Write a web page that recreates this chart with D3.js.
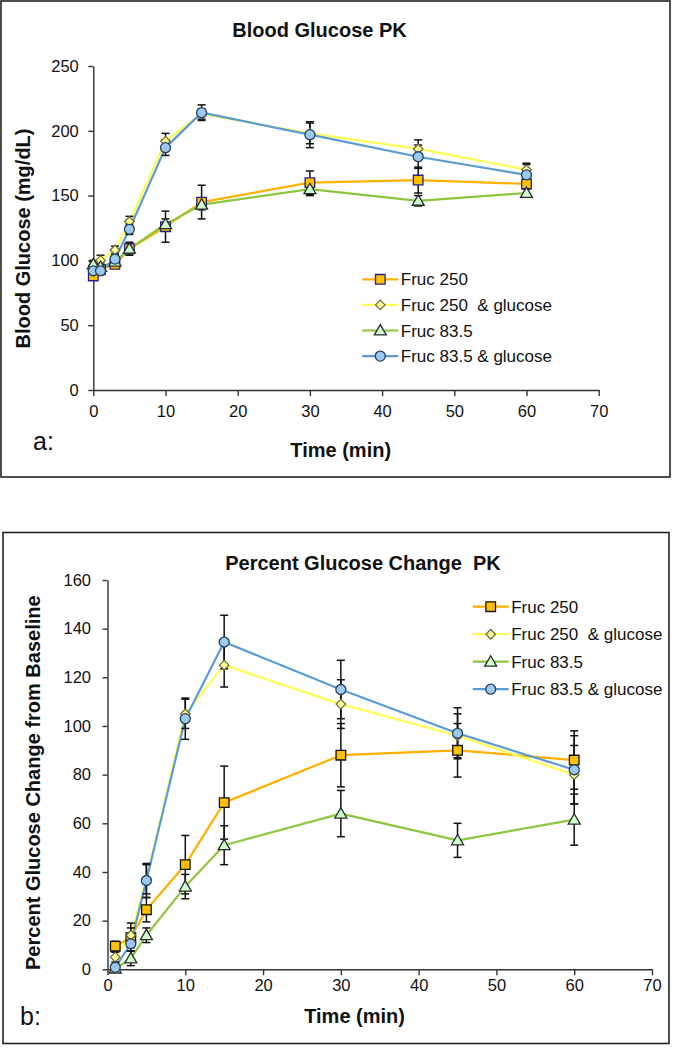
<!DOCTYPE html>
<html><head><meta charset="utf-8">
<script src="https://cdn.jsdelivr.net/npm/d3@7"></script>
<style>
html,body{margin:0;padding:0;background:#fff;}
svg{display:block;font-family:"Liberation Sans",Arial,sans-serif;}
</style></head>
<body>
<script>
// ---------- DATA ----------
const seriesNames = ["Fruc 250", "Fruc 250  & glucose", "Fruc 83.5", "Fruc 83.5 & glucose"];

// Chart a: Blood Glucose PK (mg/dL)
const timesA = [0, 1, 3, 5, 10, 15, 30, 45, 60];
const fruc250A      = [88, 93, 97, 109, 126, 145, 160, 162, 159];
const fruc250GluA   = [96, 100, 108, 130, 192, 213, 198, 186, 170];
const fruc835A      = [97, 95, 99, 109, 128, 143, 155, 146, 152];
const fruc835GluA   = [92, 92, 101, 124, 187, 214, 197, 180, 166];
const errFruc250A    = [3, 3, 3, 5, 12, 13, 9, 10, 3];
const errFruc250GluA = [3, 4, 3, 4, 6, 4, 8, 7, 5];
const errFruc835A    = [3, 3, 3, 4, 4, 4, 5, 4, 3];
const errFruc835GluA = [3, 3, 3, 4, 6, 6, 10, 9, 8];
const yTicksA = [0, 50, 100, 150, 200, 250];

// Chart b: Percent Glucose Change from Baseline
const timesB = [1, 3, 5, 10, 15, 30, 45, 60];
const fruc250B      = [9.5, 13, 24.5, 43, 68.5, 88, 90, 86];
const fruc250GluB   = [5, 14, 37, 105, 125, 109, 96, 80];
const fruc835B      = [0.3, 4.5, 14, 34, 51, 64, 53, 61.5];
const fruc835GluB   = [0.8, 10.5, 36.5, 103, 134.5, 115, 97, 82];
const errFruc250B    = [2, 4, 5, 12, 15, 13, 11, 12];
const errFruc250GluB = [2, 5, 6, 6, 9, 10, 9, 12];
const errFruc835B    = [1.5, 3, 3, 5, 8, 9.5, 7, 10.5];
const errFruc835GluB = [1, 3, 7, 8.5, 11, 12, 10.5, 14];
const yTicksB = [0, 20, 40, 60, 80, 100, 120, 140, 160];

const xTicks = [0, 10, 20, 30, 40, 50, 60, 70];

// ---------- STYLE ----------
const lineColors = ["#FFB000", "#FFFF55", "#8DC63F", "#5B9BD5"];
const fillColors = ["#FFC000", "#FFFF99", "#CCFFCC", "#9DC8F0"];
const strokeA = ["#22228C", "#6E6E3A", "#2A2A2A", "#24405E"];
const strokeB = ["#111111", "#6E6E3A", "#2A2A2A", "#24405E"];
const symbols = [d3.symbolSquare, d3.symbolDiamond2, d3.symbolTriangle, d3.symbolCircle];
const symSizes = [92, 58, 62, 78];

const W = 674, H = 1050;
const svg = d3.select("body").append("svg").attr("width", W).attr("height", H);

function drawChart(cfg) {
  const g = svg.append("g");
  // frame
  g.append("rect").attr("x", cfg.frame[0]).attr("y", cfg.frame[1])
    .attr("width", cfg.frame[2]).attr("height", cfg.frame[3])
    .attr("fill", "none").attr("stroke", "#222").attr("stroke-width", 1.6);

  const x = d3.scaleLinear().domain([0, 70]).range(cfg.xRange);
  const y = d3.scaleLinear().domain([0, cfg.yMax]).range(cfg.yRange);

  // axes
  const ya = g.append("g").attr("transform", `translate(${cfg.xRange[0]},0)`)
    .call(d3.axisLeft(y).tickValues(cfg.yTicks).tickSize(5).tickSizeOuter(0).tickPadding(cfg.yPad));
  const xa = g.append("g").attr("transform", `translate(0,${cfg.yRange[0]})`)
    .call(d3.axisBottom(x).tickValues(xTicks).tickSize(6).tickSizeOuter(0).tickPadding(cfg.xPad));
  [ya, xa].forEach(a => {
    a.selectAll("path.domain").attr("stroke", "#333").attr("stroke-width", 1.4);
    a.selectAll(".tick line").attr("stroke", "#333").attr("stroke-width", 1.4);
    a.selectAll(".tick text").attr("fill", "#111").style("font-size", "16.5px")
      .style("font-family", "'Liberation Sans',Arial,sans-serif");
  });

  const line = d3.line().x(d => x(d[0])).y(d => y(d[1]));
  const data = cfg.series.map((s, k) => cfg.times.map((t, i) => [t, s[i], cfg.errs[k][i]]));

  // lines
  data.forEach((d, k) => {
    g.append("path").datum(d).attr("d", line).attr("fill", "none")
      .attr("stroke", lineColors[k]).attr("stroke-width", 2.2).attr("stroke-linejoin", "round");
  });
  // error bars
  data.forEach((d, k) => {
    const eb = g.append("g").attr("stroke", "#111").attr("stroke-width", 1.5);
    d.forEach(p => {
      const cx = x(p[0]), y1 = y(p[1] + p[2]), y0 = y(Math.max(0, p[1] - p[2]));
      eb.append("line").attr("x1", cx).attr("x2", cx).attr("y1", y1).attr("y2", y0);
      eb.append("line").attr("x1", cx - 4).attr("x2", cx + 4).attr("y1", y1).attr("y2", y1);
      eb.append("line").attr("x1", cx - 4).attr("x2", cx + 4).attr("y1", y0).attr("y2", y0);
    });
  });
  // markers
  data.forEach((d, k) => {
    g.append("g").selectAll("path").data(d).join("path")
      .attr("transform", p => `translate(${x(p[0])},${y(p[1]) + (k === 2 ? 1 : 0)})`)
      .attr("d", d3.symbol().type(symbols[k]).size(symSizes[k]))
      .attr("fill", fillColors[k]).attr("stroke", cfg.mstroke[k]).attr("stroke-width", 1.3);
  });

  // legend
  const lg = g.append("g");
  seriesNames.forEach((name, k) => {
    const ry = cfg.legend.y0 + k * cfg.legend.dy;
    const lx = cfg.legend.x;
    lg.append("line").attr("x1", lx).attr("x2", lx + 36).attr("y1", ry).attr("y2", ry)
      .attr("stroke", lineColors[k]).attr("stroke-width", 2.2);
    lg.append("path").attr("transform", `translate(${lx + 18},${ry + (k === 2 ? 1 : 0)})`)
      .attr("d", d3.symbol().type(symbols[k]).size(symSizes[k]))
      .attr("fill", fillColors[k]).attr("stroke", cfg.mstroke[k]).attr("stroke-width", 1.3);
    lg.append("text").attr("x", lx + 38.5).attr("y", ry).attr("dy", "0.36em")
      .style("font-size", "17px").style("white-space", "pre").attr("fill", "#111").text(name);
  });

  // titles
  g.append("text").attr("x", cfg.title.x).attr("y", cfg.title.y).attr("text-anchor", "middle")
    .style("font-size", "20px").style("font-weight", "bold").style("white-space", "pre")
    .attr("fill", "#111").text(cfg.title.text);
  g.append("text").attr("transform", `translate(${cfg.ylab.x},${cfg.ylab.y}) rotate(-90)`)
    .attr("text-anchor", "middle").style("font-size", "20px").style("font-weight", "bold")
    .attr("fill", "#111").text(cfg.ylab.text);
  g.append("text").attr("x", cfg.xlab.x).attr("y", cfg.xlab.y).attr("text-anchor", "middle")
    .style("font-size", "20px").style("font-weight", "bold").attr("fill", "#111").text("Time (min)");
  g.append("text").attr("x", cfg.tag.x).attr("y", cfg.tag.y)
    .style("font-size", "25px").attr("fill", "#111").text(cfg.tag.text);
}

drawChart({
  frame: [1, 1, 669, 476],
  xRange: [93.3, 598.7], yRange: [390, 66], yMax: 250, yTicks: yTicksA,
  yPad: 9.5, xPad: 9,
  times: timesA,
  series: [fruc250A, fruc250GluA, fruc835A, fruc835GluA],
  errs: [errFruc250A, errFruc250GluA, errFruc835A, errFruc835GluA],
  mstroke: strokeA,
  legend: { x: 362.3, y0: 279.3, dy: 25.6 },
  title: { x: 319.5, y: 37.3, text: "Blood Glucose PK" },
  ylab: { x: 29.5, y: 238.5, text: "Blood Glucose (mg/dL)" },
  xlab: { x: 340.7, y: 456.5 },
  tag: { x: 33, y: 450, text: "a:" }
});

drawChart({
  frame: [3, 532.5, 666, 511],
  xRange: [107.5, 652], yRange: [969.3, 580], yMax: 160, yTicks: yTicksB,
  yPad: 11.5, xPad: 4,
  times: timesB,
  series: [fruc250B, fruc250GluB, fruc835B, fruc835GluB],
  errs: [errFruc250B, errFruc250GluB, errFruc835B, errFruc835GluB],
  mstroke: strokeB,
  legend: { x: 472.7, y0: 606.7, dy: 27.5 },
  title: { x: 363, y: 570, text: "Percent Glucose Change  PK" },
  ylab: { x: 39.5, y: 782.7, text: "Percent Glucose Change from Baseline" },
  xlab: { x: 354.6, y: 1023 },
  tag: { x: 20, y: 1025, text: "b:" }
});
</script>
</body></html>
